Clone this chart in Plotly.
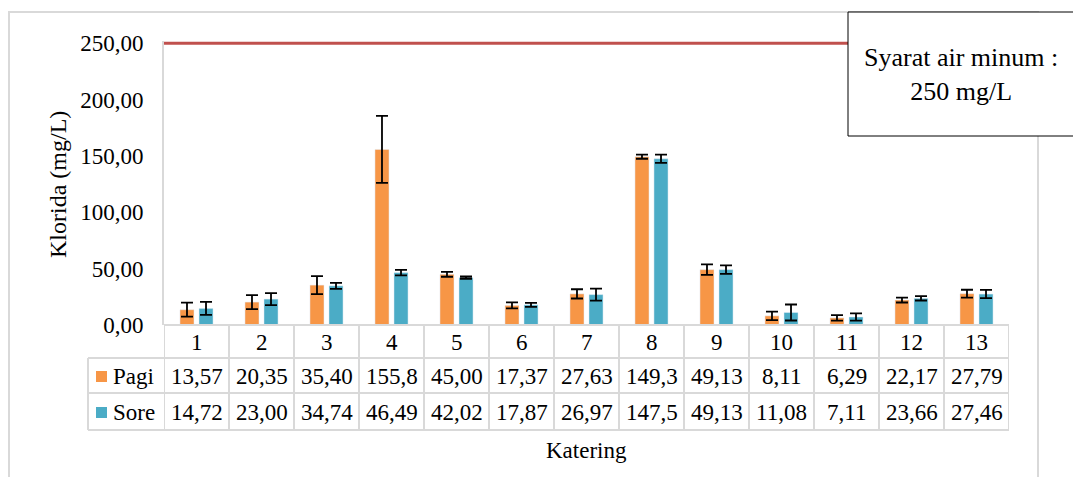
import plotly.graph_objects as go

categories = ["1", "2", "3", "4", "5", "6", "7", "8", "9", "10", "11", "12", "13"]
pagi = [13.57, 20.35, 35.40, 155.8, 45.00, 17.37, 27.63, 149.3, 49.13, 8.11, 6.29, 22.17, 27.79]
sore = [14.72, 23.00, 34.74, 46.49, 42.02, 17.87, 26.97, 147.5, 49.13, 11.08, 7.11, 23.66, 27.46]
pagi_err = [6.2, 6.2, 8.0, 29.7, 2.2, 2.7, 4.1, 1.8, 4.7, 3.8, 2.4, 2.2, 3.5]
sore_err = [5.8, 5.3, 2.7, 2.4, 1.0, 1.8, 5.3, 3.7, 3.8, 7.1, 3.2, 1.9, 3.7]
limit = 250
y_ticks = [0, 50, 100, 150, 200, 250]

ORANGE = "#F79646"
TEAL = "#4BACC6"
RED = "#C0504D"
GRID = "#D9D9D9"
FONT = "Liberation Serif"
FS = 23

OFF = 8  # page body margin
W, H = 1081 - 2 * OFF, 485 - 2 * OFF
L, R_EDGE, TOP, BOT = 164, 1009, 41, 325  # reference pixel coordinates
PW, PH = R_EDGE - L, BOT - TOP
n = len(categories)


def px(xp):
    return (xp - L) / PW


def py(yp):
    return (BOT - yp) / PH


def fmt(v):
    s = f"{v:.1f}" if v >= 100 else f"{v:.2f}"
    return s.replace(".", ",")


fig = go.Figure()
fig.add_trace(go.Bar(
    x=categories, y=pagi, name="Pagi", marker=dict(color=ORANGE),
    error_y=dict(type="data", array=pagi_err, color="black", thickness=1.8, width=6),
))
fig.add_trace(go.Bar(
    x=categories, y=sore, name="Sore", marker=dict(color=TEAL),
    error_y=dict(type="data", array=sore_err, color="black", thickness=1.8, width=6),
))

shapes = []
annotations = []
tf = dict(family=FONT, size=FS, color="black")

# outer chart border
shapes.append(dict(type="rect", xref="paper", yref="paper", x0=px(9), x1=px(1038),
                   y0=py(520), y1=py(12), line=dict(color=GRID, width=2), layer="below"))

# limit line
shapes.append(dict(type="line", xref="paper", yref="y", x0=0, x1=1, y0=limit, y1=limit,
                   line=dict(color=RED, width=3)))

# table grid
row_lines = [325, 358, 393, 430]
for k, yl in enumerate(row_lines):
    x0 = 0 if k == 0 else px(88)
    shapes.append(dict(type="line", xref="paper", yref="paper", x0=x0, x1=1, y0=py(yl), y1=py(yl),
                       line=dict(color=GRID, width=2)))
for i in range(n + 1):
    xb = i - 0.5
    shapes.append(dict(type="line", xref="x", yref="paper", x0=xb, x1=xb, y0=py(325), y1=py(430),
                       line=dict(color=GRID, width=2)))
shapes.append(dict(type="line", xref="paper", yref="paper", x0=px(88), x1=px(88), y0=py(358), y1=py(430),
                   line=dict(color=GRID, width=2)))

# table text
row_y = [342, 376, 412]
for i, c in enumerate(categories):
    annotations.append(dict(x=i, xref="x", y=py(row_y[0]), yref="paper", text=c, showarrow=False,
                            font=tf, xanchor="center", yanchor="middle"))
    annotations.append(dict(x=i, xref="x", y=py(row_y[1]), yref="paper", text=fmt(pagi[i]), showarrow=False,
                            font=tf, xanchor="center", yanchor="middle"))
    annotations.append(dict(x=i, xref="x", y=py(row_y[2]), yref="paper", text=fmt(sore[i]), showarrow=False,
                            font=tf, xanchor="center", yanchor="middle"))

# legend keys in table
for name, col, yc in [("Pagi", ORANGE, row_y[1]), ("Sore", TEAL, row_y[2])]:
    shapes.append(dict(type="rect", xref="paper", yref="paper", x0=px(96), x1=px(107),
                       y0=py(yc + 6), y1=py(yc - 5), fillcolor=col, line=dict(width=0)))
    annotations.append(dict(x=px(111), xref="paper", y=py(yc), yref="paper", text=name, showarrow=False,
                            font=tf, xanchor="left", yanchor="middle"))

# axis titles
annotations.append(dict(x=px(58), xref="paper", y=py(184), yref="paper", text="Klorida (mg/L)",
                        textangle=-90, showarrow=False, font=dict(family=FONT, size=24, color="black"),
                        xanchor="center", yanchor="middle"))
annotations.append(dict(x=0.5, xref="paper", y=py(450), yref="paper", text="Katering", showarrow=False,
                        font=tf, xanchor="center", yanchor="middle"))

# note box
shapes.append(dict(type="rect", xref="paper", yref="paper", x0=px(848), x1=px(1075), y0=py(136), y1=py(12),
                   fillcolor="white", line=dict(color="black", width=1)))
annotations.append(dict(x=px(961), xref="paper", y=py(75), yref="paper",
                        text="Syarat air minum :<br>250 mg/L", showarrow=False,
                        font=dict(family=FONT, size=26, color="black"), xanchor="center", yanchor="middle",
                        align="center"))

fig.update_layout(
    width=W, height=H,
    margin=dict(l=L - OFF, r=W - (R_EDGE - OFF), t=TOP - OFF, b=H - (BOT - OFF), pad=0),
    paper_bgcolor="white", plot_bgcolor="white",
    barmode="group", bargap=0.415, bargroupgap=0.26,
    showlegend=False,
    separators=",.",
    font=dict(family=FONT, size=FS, color="black"),
    shapes=shapes, annotations=annotations,
    xaxis=dict(type="category", showticklabels=False, ticks="", showgrid=False, zeroline=False,
               showline=False, range=[-0.5, n - 0.5]),
    yaxis=dict(range=[0, 252], tickvals=y_ticks, tickformat=".2f", showgrid=False, zeroline=False,
               showline=True, linecolor=GRID, linewidth=2, ticks="", ticklabelstandoff=14,
               tickfont=tf),
)

fig.write_html("out.html")
